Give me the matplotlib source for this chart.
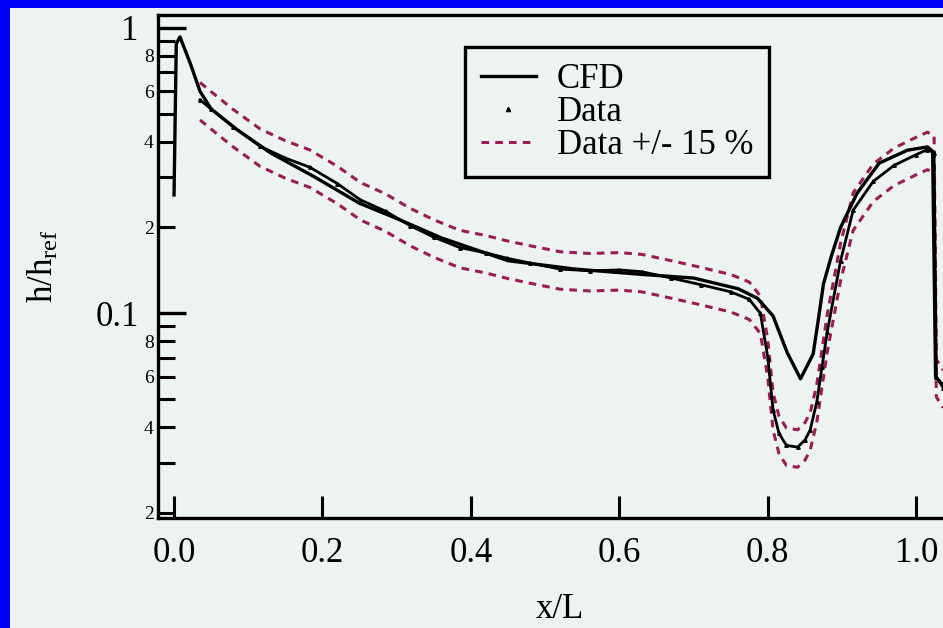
import matplotlib
matplotlib.use('Agg')
import matplotlib.pyplot as plt
from matplotlib.patches import Rectangle
from matplotlib.lines import Line2D
from matplotlib.ticker import FixedLocator, FixedFormatter
import numpy as np

plt.rcParams['font.family'] = 'Liberation Serif'
plt.rcParams['mathtext.fontset'] = 'custom'
plt.rcParams['mathtext.rm'] = 'Liberation Serif'
plt.rcParams['mathtext.it'] = 'Liberation Serif'

# CFD curve
cfd_x = [0.0, 0.003, 0.008, 0.022, 0.035, 0.05, 0.085, 0.13, 0.19, 0.25, 0.30, 0.36,
         0.41, 0.45, 0.54, 0.63, 0.70, 0.76, 0.786, 0.807, 0.826, 0.844, 0.861, 0.868,
         0.875, 0.886, 0.898, 0.92, 0.95, 0.988, 1.015, 1.022, 1.026, 1.036]
cfd_y = [0.26, 0.88, 0.93, 0.75, 0.60, 0.52, 0.44, 0.365, 0.30, 0.243, 0.215, 0.184,
         0.166, 0.153, 0.143, 0.137, 0.133, 0.122, 0.113, 0.098, 0.073, 0.059, 0.072, 0.095,
         0.127, 0.160, 0.20, 0.263, 0.336, 0.373, 0.383, 0.37, 0.06, 0.056]

# measured data
data_x = [0.035, 0.05, 0.08, 0.116, 0.15, 0.183, 0.22, 0.251, 0.285, 0.318, 0.35, 0.385,
          0.42, 0.449, 0.48, 0.52, 0.56, 0.60, 0.63, 0.67, 0.71, 0.75, 0.775, 0.79,
          0.80, 0.807, 0.815, 0.825, 0.84, 0.85, 0.857, 0.866, 0.873, 0.88, 0.898, 0.915,
          0.942, 0.97, 1.0, 1.015, 1.024, 1.027, 1.036]
data_y = [0.56, 0.52, 0.45, 0.385, 0.35, 0.325, 0.285, 0.25, 0.228, 0.203, 0.185, 0.17,
          0.163, 0.156, 0.150, 0.143, 0.141, 0.142, 0.140, 0.133, 0.126, 0.119, 0.112, 0.100,
          0.070, 0.046, 0.038, 0.0345, 0.034, 0.036, 0.039, 0.049, 0.065, 0.086, 0.153, 0.23,
          0.29, 0.33, 0.36, 0.375, 0.365, 0.06, 0.055]

band = 0.15  # Data +/- 15 %
data_up = np.array(data_y) * (1 + band)
data_lo = np.array(data_y) * (1 - band)

yticks_major = [0.1, 1]
yticks_minor = [0.02, 0.03, 0.04, 0.05, 0.06, 0.07, 0.08, 0.09,
                0.2, 0.3, 0.4, 0.5, 0.6, 0.7, 0.8, 0.9]
yminor_labels = ['2', '', '4', '', '6', '', '8', '',
                 '2', '', '4', '', '6', '', '8', '']
xticks = [0.0, 0.2, 0.4, 0.6, 0.8, 1.0]

bg = '#edf3f1'
dash_col = '#9b1b55'

fig = plt.figure(figsize=(9.43, 6.28), dpi=100)
fig.patch.set_facecolor('#0000f6')
fig.patches.append(Rectangle((10/943, 0), 1, 1 - 8/628, transform=fig.transFigure,
                             facecolor=bg, edgecolor='none', zorder=-5))

ax = fig.add_axes([158/943, 1 - 518/628, 1 - 158/943, (518 - 15)/628])
ax.set_facecolor('none')
ax.set_yscale('log')

ax.plot(data_x, data_up, color=dash_col, lw=2.2, ls=(0, (2.5, 2)))
ax.plot(data_x, data_lo, color=dash_col, lw=2.2, ls=(0, (2.5, 2)))
ax.plot(data_x, data_y, color='black', lw=2.0, marker='^', ms=2.5)
ax.plot(cfd_x, cfd_y, color='black', lw=2.4)

ax.set_xlim(-0.0216, 1.036)
ax.set_ylim(0.0192, 1.11)

ax.xaxis.set_major_locator(FixedLocator(xticks))
ax.set_xticklabels(['%.1f' % t for t in xticks])
ax.yaxis.set_major_locator(FixedLocator(yticks_major))
ax.yaxis.set_major_formatter(FixedFormatter(['0.1', '1']))
ax.yaxis.set_minor_locator(FixedLocator(yticks_minor))
ax.yaxis.set_minor_formatter(FixedFormatter(yminor_labels))

ax.tick_params(axis='x', which='major', direction='in', length=16, width=2.2,
               labelsize=25, pad=14)
ax.tick_params(axis='x', which='minor', bottom=False)
ax.tick_params(axis='y', which='major', direction='in', length=20, width=2.4,
               labelsize=25, pad=14)
ax.tick_params(axis='y', which='minor', direction='in', length=12, width=2.2,
               labelsize=14, pad=3)

for s in ['left', 'bottom', 'top']:
    ax.spines[s].set_linewidth(2.4)
ax.spines['right'].set_visible(False)

fig.text(560/943, 1 - 593/628, 'x/L', ha='center', va='top', fontsize=25)
fig.text(44/943, 1 - 266/628, r'$\mathrm{h/h_{ref}}$', ha='center', va='center',
         rotation=90, fontsize=25)

handles = [Line2D([], [], color='black', lw=2.4),
           Line2D([], [], color='black', ls='none', marker='^', ms=3),
           Line2D([], [], color=dash_col, lw=2.2, ls=(0, (2.5, 2)))]
leg = ax.legend(handles, ['CFD', 'Data', 'Data +/- 15 %'], loc='upper left',
                bbox_to_anchor=(0.391, 0.936), borderaxespad=0, fontsize=25,
                handlelength=1.6, handletextpad=0.6, labelspacing=0.0,
                borderpad=0.45, fancybox=False, frameon=True)
leg.get_frame().set_edgecolor('black')
leg.get_frame().set_linewidth(2.4)
leg.get_frame().set_facecolor(bg)
leg.get_frame().set_alpha(1)

fig.savefig('out.png', dpi=100, facecolor=fig.get_facecolor())
